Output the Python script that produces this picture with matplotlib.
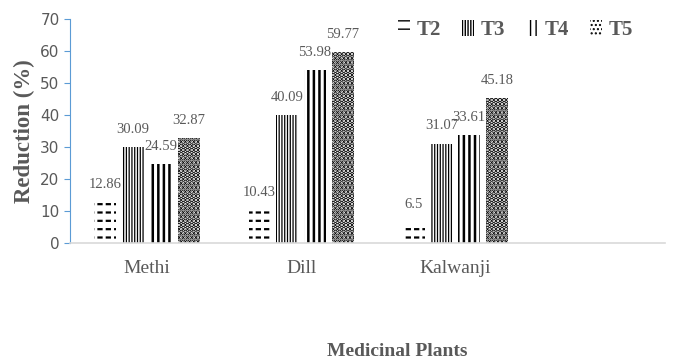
import matplotlib.pyplot as plt
import numpy as np

plants = ['Methi', 'Dill', 'Kalwanji']
treatments = ['T2', 'T3', 'T4', 'T5']
t2 = [12.86, 10.43, 6.5]
t3 = [30.09, 40.09, 31.07]
t4 = [24.59, 53.98, 33.61]
t5 = [32.87, 59.77, 45.18]
y_ticks = [0, 10, 20, 30, 40, 50, 60, 70]

grey = '#595959'
serif = 'Liberation Serif'

fig = plt.figure(figsize=(6.75, 3.63), dpi=100)
ax = fig.add_axes([0.1037, 0.3306, 0.8815, 0.6171])

x = np.arange(len(plants))
width = 0.143
step = 0.18
offsets = [-1.5 * step, -0.5 * step, 0.5 * step, 1.5 * step]
hatches = ['--', '||||||', '|||', '....']
hatch_lw = [1.6, 0.9, 1.8, 2.4]
series = [t2, t3, t4, t5]

for name, vals, off, h, lw in zip(treatments, series, offsets, hatches, hatch_lw):
    with plt.rc_context({'hatch.linewidth': lw}):
        bars = ax.bar(x + off, vals, width, color='white', edgecolor='black',
                      linewidth=0, hatch=h, label=name)
    if name == 'T2':
        # break the horizontal lines into dashes
        with plt.rc_context({'hatch.linewidth': 2.2}):
            ax.bar(x + off, vals, width, fill=False, edgecolor='white',
                   linewidth=0, hatch='||', label='_nolegend_')
    for b, v in zip(bars, vals):
        ax.annotate(f'{v:g}', (b.get_x() + b.get_width() / 2, v),
                    xytext=(0, 8), textcoords='offset points',
                    ha='center', va='bottom', fontsize=10.5,
                    family=serif, color=grey)

ax.set_xlim(-0.5, 3.36)
ax.set_ylim(0, 70)
ax.set_yticks(y_ticks)
ax.set_xticks(x)
ax.set_xticklabels(plants, family=serif, fontsize=14, color=grey)
ax.tick_params(axis='x', length=0, pad=12)
ax.tick_params(axis='y', colors='#5B9BD5', labelcolor=grey, labelsize=11,
               length=4, direction='out')

for s in ['top', 'right']:
    ax.spines[s].set_visible(False)
ax.spines['left'].set_color('#5B9BD5')
ax.spines['bottom'].set_color('#D9D9D9')
ax.spines['bottom'].set_linewidth(1.2)

ax.set_ylabel('Reduction (%)', family=serif, fontweight='bold', fontsize=16.5,
              color=grey, labelpad=4)
fig.text(397 / 675, 1 - 352 / 363, 'Medicinal Plants', family=serif,
         fontweight='bold', fontsize=14, color=grey, ha='center', va='center')

leg = ax.legend(ncol=4, loc='center right', bbox_to_anchor=(0.946, 0.951),
                frameon=False, handlelength=0.6, handleheight=0.8,
                columnspacing=1.0, handletextpad=0.3, borderaxespad=0,
                borderpad=0, prop={'family': serif, 'weight': 'bold', 'size': 15})
for t in leg.get_texts():
    t.set_color(grey)

fig.savefig('out.png', dpi=100)
